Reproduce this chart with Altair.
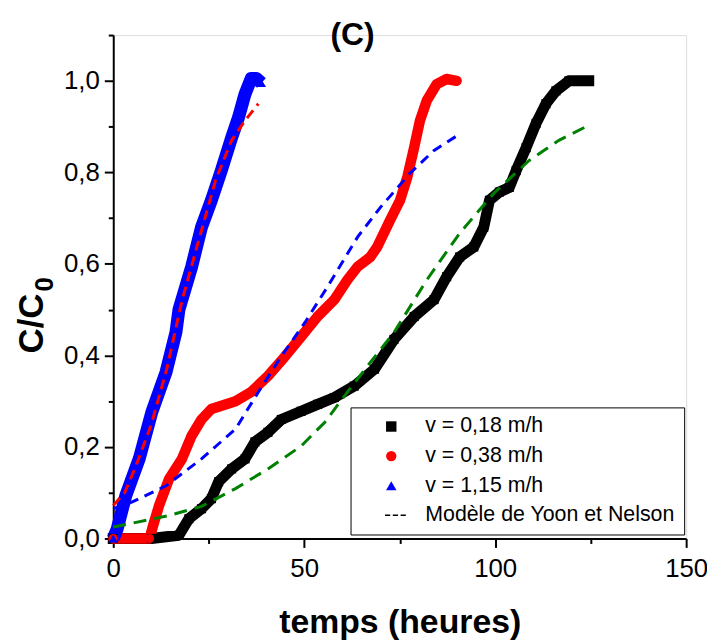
import altair as alt
import pandas as pd

# ---- data ----
series_names = ["v = 0,18 m/h", "v = 0,38 m/h", "v = 1,15 m/h", "Modèle de Yoon et Nelson"]

black_t = [0, 10, 17.2, 19.8, 23.1, 25.7, 27.6, 31, 34.5, 37.1, 40.5, 44, 49.2, 53.5, 57.9,
           63.1, 68.4, 73.5, 78.8, 84, 87.3, 90.7, 94.4, 97, 98.5, 101.1, 103.7, 105.5,
           108.1, 110.7, 113.3, 115.9, 119.3, 124.5]
black_y = [0, 0, 0.007, 0.043, 0.065, 0.087, 0.124, 0.152, 0.174, 0.211, 0.232, 0.26, 0.278,
           0.293, 0.308, 0.333, 0.37, 0.435, 0.485, 0.522, 0.572, 0.615, 0.637, 0.68, 0.739,
           0.757, 0.767, 0.804, 0.854, 0.907, 0.95, 0.978, 1.0, 1.0]

red_t = [0, 9.5, 10.5, 12, 14.6, 18, 20.5, 23.1, 25.7, 32, 36.1, 40.5, 45, 49.2, 53.5, 57.9,
         61.3, 64, 67.3, 69.1, 72.5, 75.1, 77, 78.8, 80.3, 82.1, 84.7, 87.3, 89.9]
red_y = [0, 0, 0.03, 0.072, 0.13, 0.174, 0.224, 0.26, 0.283, 0.3, 0.32, 0.355, 0.398, 0.441,
         0.485, 0.522, 0.565, 0.594, 0.615, 0.637, 0.696, 0.739, 0.79, 0.855, 0.913, 0.957,
         0.993, 1.004, 1.0]

blue_t = [0, 1, 3.3, 6.8, 10.1, 13.8, 16.4, 17.2, 20.5, 23.1, 25.7, 28.3, 31, 32.8, 34.5,
          36.1, 37.5, 38.8]
blue_y = [0, 0.02, 0.094, 0.174, 0.276, 0.363, 0.45, 0.5, 0.593, 0.68, 0.739, 0.804, 0.876,
          0.92, 0.971, 1.005, 1.005, 0.995]

model_black_t = [0, 14.6, 23.1, 32, 40.5, 49.2, 55.4, 61.3, 66.5, 73.5, 82.1, 90.7, 99.6,
                 108.9, 116.7, 124.3]
model_black_y = [0.025, 0.05, 0.07, 0.109, 0.152, 0.202, 0.254, 0.32, 0.376, 0.45, 0.565,
                 0.667, 0.754, 0.826, 0.87, 0.902]

model_red_t = [0, 5, 13.8, 23.1, 32, 38, 44, 50.2, 56.1, 64, 70, 77.7, 84, 90]
model_red_y = [0.065, 0.08, 0.115, 0.174, 0.239, 0.32, 0.398, 0.472, 0.55, 0.659, 0.724,
               0.798, 0.848, 0.88]

model_blue_t = [0, 3, 6, 10, 14, 18, 22.4, 26.8, 31, 34.5, 38]
model_blue_y = [0.072, 0.1, 0.16, 0.25, 0.37, 0.52, 0.652, 0.783, 0.87, 0.913, 0.95]

x_ticks = [0, 25, 50, 75, 100, 125, 150]
y_ticks = [round(i * 0.1, 1) for i in range(12)]

chart_title = ["(C)"]
y_title_main = "C/C"
y_title_sub = ["0"]

# ---- frames ----
def frame(t, y, name):
    return pd.DataFrame({"t": t, "y": y, "s": name})

df_black = frame(black_t, black_y, series_names[0])
df_red = frame(red_t, red_y, series_names[1])
df_blue = frame(blue_t, blue_y, series_names[2])
df_points = pd.concat([df_black, df_red, df_blue], ignore_index=True)
df_mb = frame(model_black_t, model_black_y, "mb")
df_mr = frame(model_red_t, model_red_y, "mr")
df_mu = frame(model_blue_t, model_blue_y, "mu")

FONT = "Liberation Sans"
xscale = alt.Scale(domain=[0, 150], nice=False, zero=False)
yscale = alt.Scale(domain=[0, 1.1], nice=False, zero=False)

x_axis = alt.Axis(
    values=x_ticks,
    labelExpr="datum.value % 50 == 0 ? datum.label : ''",
    tickSize={"condition": {"test": "datum.value % 50 == 0", "value": 9}, "value": 5},
    title="temps (heures)",
    titleFont=FONT, titleFontSize=34, titleFontWeight="bold", titleColor="black",
    titleY=95, titleBaseline="alphabetic",
    labelFont=FONT, labelFontSize=26, labelColor="black", labelPadding=8,
    labelFlush=False, labelOverlap=False,
    domainColor="black", domainWidth=2, tickColor="black", tickWidth=2, grid=False,
)
y_axis = alt.Axis(
    values=y_ticks,
    labelExpr="round(datum.value*10) % 2 == 0 ? replace(format(datum.value, '.1f'), '.', ',') : ''",
    tickSize={"condition": {"test": "round(datum.value*10) % 2 == 0", "value": 9}, "value": 5},
    title=y_title_main,
    titleFont=FONT, titleFontSize=35, titleFontWeight="bold", titleColor="black",
    titleX=-71, titleY=290, titleAngle=-90, titleAlign="center", titleBaseline="alphabetic",
    labelFont=FONT, labelFontSize=26, labelColor="black", labelPadding=5,
    labelFlush=False, labelOverlap=False,
    domainColor="black", domainWidth=2, tickColor="black", tickWidth=2, grid=False,
)

X = alt.X("t:Q", scale=xscale, axis=x_axis)
Y = alt.Y("y:Q", scale=yscale, axis=y_axis)

def data_line(df, color, cap, width):
    return alt.Chart(df).mark_line(color=color, strokeWidth=width, strokeCap=cap,
                                   strokeJoin="round").encode(x=X, y=Y, order="t:Q")

def model_line(df, color, dash):
    return alt.Chart(df).mark_line(color=color, strokeWidth=3, strokeDash=dash).encode(
        x=X, y=Y, order="t:Q")

dash_path = ("M-1.2,-0.16H-0.2V0.16H-1.2Z M0.3,-0.16H1.3V0.16H0.3Z "
             "M1.8,-0.16H2.8V0.16H1.8Z")

legend = alt.Legend(
    title=None, orient="none", legendX=239, legendY=375,
    strokeColor="black", fillColor="white", padding=8.5,
    labelFont=FONT, labelFontSize=21.5, labelColor="black", labelLimit=400,
    symbolSize=110, symbolStrokeWidth=0, symbolOffset=21.75, labelOffset=23.5,
    rowPadding=6.8,
)

points = alt.Chart(df_points).mark_point(filled=True, opacity=1).encode(
    x=X, y=Y,
    color=alt.Color("s:N", scale=alt.Scale(domain=series_names,
                                           range=["#000000", "#ff0000", "#0000ff", "#000000"]),
                    legend=legend),
    shape=alt.Shape("s:N", scale=alt.Scale(domain=series_names,
                                           range=["square", "circle", "triangle-up", dash_path]),
                    legend=legend),
    size=alt.value(85),
)

title_text = alt.Chart(pd.DataFrame({"txt": chart_title})).mark_text(
    font=FONT, fontSize=32, fontWeight="bold", color="black",
    align="center", baseline="alphabetic",
).encode(text="txt:N", x=alt.value(241), y=alt.value(10))

sub_text = alt.Chart(pd.DataFrame({"txt": y_title_sub})).mark_text(
    font=FONT, fontSize=26, fontWeight="bold", color="black", angle=270,
    align="center", baseline="alphabetic",
).encode(text="txt:N", x=alt.value(-61), y=alt.value(251))

chart = alt.layer(
    data_line(df_black, "#000000", "square", 11),
    data_line(df_red, "#ff0000", "round", 10.5),
    data_line(df_blue, "#0000ff", "butt", 13),
    points,
    model_line(df_mb, "#008000", [13, 8]),
    model_line(df_mr, "#0000ff", [10, 7]),
    model_line(df_mu, "#ff0000", [10, 6]),
    title_text,
    sub_text,
).properties(
    width=577, height=507,
    padding={"left": 106, "top": 25, "right": 21, "bottom": 100},
    autosize=alt.AutoSizeParams(type="none"),
).configure_view(stroke=None).configure(background="white")

chart.save("out.html", embed_options={"renderer": "svg", "actions": False})
